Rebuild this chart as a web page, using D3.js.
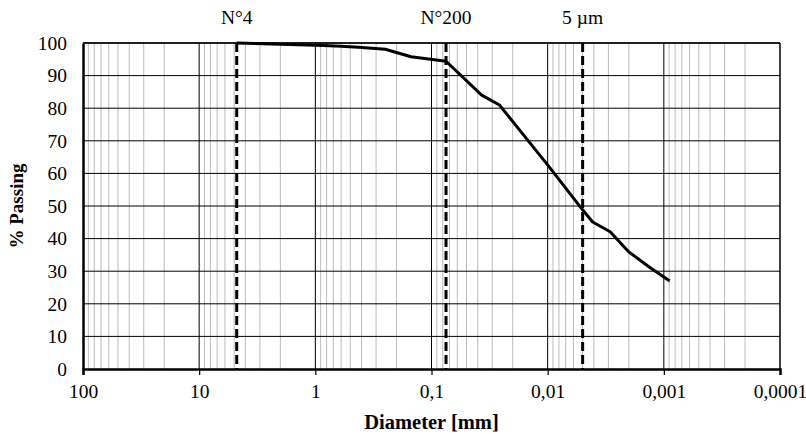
<!DOCTYPE html>
<html lang="en">
<head>
<meta charset="UTF-8">
<title>Grain size distribution</title>
<script src="https://d3js.org/d3.v7.min.js"></script>
<style>
  body { margin: 0; background: #fff; }
  text { font-family: "Liberation Serif", "Times New Roman", serif; fill: #000; }
</style>
</head>
<body>
<div id="chart"></div>
<script>
  // grain size curve (diameter in mm, % passing)
  const diameters = [4.75, 2, 0.85, 0.6, 0.425, 0.25, 0.15, 0.075, 0.037, 0.026, 0.0097, 0.0051, 0.0041, 0.0029, 0.002, 0.0013, 0.00089];
  const passing   = [100, 99.6, 99.2, 99.0, 98.7, 98.1, 95.8, 94.4, 84.0, 81.0, 62.0, 49.2, 45.1, 42.1, 35.9, 31.0, 27.0];

  // reference sizes drawn as dashed lines
  const refLabels = ["N°4", "N°200", "5 µm"];
  const refSizes  = [4.75, 0.075, 0.005];

  const xTicks = [100, 10, 1, 0.1, 0.01, 0.001, 0.0001];
  const xTickLabels = ["100", "10", "1", "0,1", "0,01", "0,001", "0,0001"];
  const yTicks = [0, 10, 20, 30, 40, 50, 60, 70, 80, 90, 100];

  const w = 806, h = 434;
  const pLeft = 83, pRight = 780, pTop = 43, pBottom = 369;

  const svg = d3.select("#chart").append("svg")
    .attr("width", w)
    .attr("height", h);

  const x = d3.scaleLog().domain([100, 0.0001]).range([pLeft, pRight]);
  const y = d3.scaleLinear().domain([0, 100]).range([pBottom, pTop]);

  // minor vertical grid (2..9 in each decade)
  const minor = [];
  for (let e = -4; e < 2; e++) {
    for (let k = 2; k <= 9; k++) minor.push(k * Math.pow(10, e));
  }
  svg.append("g").selectAll("line")
    .data(minor)
    .enter().append("line")
    .attr("x1", d => x(d)).attr("x2", d => x(d))
    .attr("y1", pTop).attr("y2", pBottom)
    .attr("stroke", "#bcbcbc")
    .attr("stroke-width", 1);

  // major vertical grid
  svg.append("g").selectAll("line")
    .data(xTicks.slice(1, -1))
    .enter().append("line")
    .attr("x1", d => x(d)).attr("x2", d => x(d))
    .attr("y1", pTop).attr("y2", pBottom)
    .attr("stroke", "#000")
    .attr("stroke-width", 1);

  // horizontal grid
  svg.append("g").selectAll("line")
    .data(yTicks.slice(1))
    .enter().append("line")
    .attr("x1", pLeft).attr("x2", pRight)
    .attr("y1", d => y(d)).attr("y2", d => y(d))
    .attr("stroke", "#000")
    .attr("stroke-width", 1);

  // frame: right side thinner
  svg.append("line")
    .attr("x1", pRight).attr("x2", pRight).attr("y1", pTop).attr("y2", pBottom)
    .attr("stroke", "#000").attr("stroke-width", 1.5);

  // dashed reference lines
  svg.append("g").selectAll("line")
    .data(refSizes)
    .enter().append("line")
    .attr("x1", d => x(d)).attr("x2", d => x(d))
    .attr("y1", pTop).attr("y2", pBottom)
    .attr("stroke", "#000")
    .attr("stroke-width", 3)
    .attr("stroke-dasharray", "9,4");

  svg.append("g").selectAll("text")
    .data(refSizes)
    .enter().append("text")
    .attr("x", d => x(d))
    .attr("y", 24)
    .attr("text-anchor", "middle")
    .style("font-size", "19.5px")
    .text((d, i) => refLabels[i]);

  // curve
  const pts = diameters.map((d, i) => [d, passing[i]]);
  svg.append("path")
    .datum(pts)
    .attr("fill", "none")
    .attr("stroke", "#000")
    .attr("stroke-width", 3)
    .attr("stroke-linejoin", "round")
    .attr("d", d3.line().x(d => x(d[0])).y(d => y(d[1])));

  // axes
  const xAxis = d3.axisBottom(x)
    .tickValues(xTicks)
    .tickFormat((d, i) => xTickLabels[i])
    .tickSize(6)
    .tickPadding(9);
  const gx = svg.append("g")
    .attr("transform", `translate(0,${pBottom})`)
    .call(xAxis);
  gx.select(".domain").attr("stroke-width", 2.5);
  gx.selectAll(".tick line").attr("stroke-width", 1.2);
  gx.selectAll("text").style("font-size", "19.5px").style("font-family", "Liberation Serif");

  const yAxis = d3.axisLeft(y)
    .tickValues(yTicks)
    .tickSizeOuter(0)
    .tickSize(0)
    .tickPadding(16);
  const gy = svg.append("g")
    .attr("transform", `translate(${pLeft},0)`)
    .call(yAxis);
  gy.select(".domain").attr("stroke-width", 2.5);
  gy.selectAll("text").style("font-size", "19.5px").style("font-family", "Liberation Serif");

  // top border
  svg.append("line")
    .attr("x1", pLeft).attr("x2", pRight).attr("y1", pTop).attr("y2", pTop)
    .attr("stroke", "#000").attr("stroke-width", 1.5);

  // axis titles
  svg.append("text")
    .attr("x", (pLeft + pRight) / 2)
    .attr("y", 429)
    .attr("text-anchor", "middle")
    .style("font-size", "20.5px")
    .style("font-weight", "bold")
    .text("Diameter [mm]");

  svg.append("text")
    .attr("transform", `translate(23,${(pTop + pBottom) / 2}) rotate(-90)`)
    .attr("text-anchor", "middle")
    .style("font-size", "19px")
    .style("font-weight", "bold")
    .text("% Passing");
</script>
</body>
</html>
